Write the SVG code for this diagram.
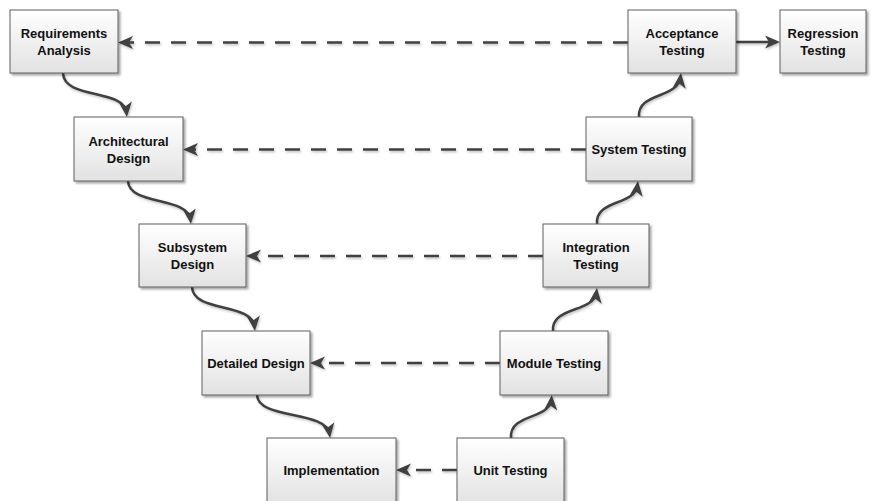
<svg xmlns="http://www.w3.org/2000/svg" width="875" height="501" viewBox="0 0 875 501">
  <defs>
    <linearGradient id="boxFill" x1="0" y1="0" x2="0" y2="1">
      <stop offset="0" stop-color="#ffffff"/>
      <stop offset="1" stop-color="#e2e2e2"/>
    </linearGradient>
    <filter id="boxShadow" x="-10%" y="-10%" width="125%" height="130%">
      <feDropShadow dx="2" dy="2" stdDeviation="1" flood-color="#000" flood-opacity="0.35"/>
    </filter>
    <filter id="lineShadow" x="-5%" y="-50%" width="110%" height="200%">
      <feDropShadow dx="1" dy="1.5" stdDeviation="0.8" flood-color="#000" flood-opacity="0.25"/>
    </filter>
    <marker id="arrow" markerUnits="userSpaceOnUse" markerWidth="16" markerHeight="14" refX="11" refY="7" orient="auto">
      <path d="M0,0.5 L15,7 L0,13.5 L4,7 z" fill="#404040"/>
    </marker>
  </defs>
  <style>
    .box rect { fill: url(#boxFill); stroke: #5e5e5e; stroke-width: 1; filter: url(#boxShadow); }
    .box text { font-family: "Liberation Sans", Arial, sans-serif; font-weight: bold; font-size: 13px; fill: #111; text-anchor: middle; }
    .link { fill: none; stroke: #404040; stroke-width: 2.5; marker-end: url(#arrow); }
    .trace { stroke-dasharray: 15 11; }
    #connectors { filter: url(#lineShadow); }
  </style>

  <rect width="875" height="501" fill="#ffffff"/>

  <g id="connectors">
    <!-- descending design flow -->
    <path class="link" d="M63,73 C64,100 124,88 126.5,113"/>
    <path class="link" d="M128,181 C129,206 188,196 190.5,220"/>
    <path class="link" d="M192,287 C193,313 252,302 254.5,327"/>
    <path class="link" d="M257,395 C258,420 326,410 329.5,434"/>
    <!-- ascending test flow -->
    <path class="link" d="M511,438 C509,413 550,420 551.5,399"/>
    <path class="link" d="M553,331 C551,306 594,313 596.5,292"/>
    <path class="link" d="M597,224 C595,199 635,206 637.5,185"/>
    <path class="link" d="M639,117 C637,92 678,99 680.5,77"/>
    <!-- verification traces -->
    <path class="link trace" d="M628,42.5 L122,42.5"/>
    <path class="link trace" d="M586,149.5 L187,149.5"/>
    <path class="link trace" d="M543,256 L250,256"/>
    <path class="link trace" d="M500,363 L314,363"/>
    <path class="link trace" d="M457,470 L400,470"/>
    <!-- acceptance to regression -->
    <path class="link" d="M736,42 L776,42"/>
  </g>

  <g id="requirements-analysis" class="box">
    <rect x="10" y="10" width="108" height="63"/>
    <text x="64" y="38">Requirements</text>
    <text x="64" y="55">Analysis</text>
  </g>
  <g id="architectural-design" class="box">
    <rect x="74" y="117" width="109" height="64"/>
    <text x="128.5" y="145.5">Architectural</text>
    <text x="128.5" y="162.5">Design</text>
  </g>
  <g id="subsystem-design" class="box">
    <rect x="139" y="224" width="107" height="63"/>
    <text x="192.5" y="252">Subsystem</text>
    <text x="192.5" y="269">Design</text>
  </g>
  <g id="detailed-design" class="box">
    <rect x="202" y="331" width="108" height="64"/>
    <text x="256" y="367.5">Detailed Design</text>
  </g>
  <g id="implementation" class="box">
    <rect x="267" y="438" width="129" height="66"/>
    <text x="331.5" y="474.5">Implementation</text>
  </g>
  <g id="unit-testing" class="box">
    <rect x="457" y="438" width="107" height="66"/>
    <text x="510.5" y="474.5">Unit Testing</text>
  </g>
  <g id="module-testing" class="box">
    <rect x="500" y="331" width="108" height="64"/>
    <text x="554" y="367.5">Module Testing</text>
  </g>
  <g id="integration-testing" class="box">
    <rect x="543" y="224" width="106" height="63"/>
    <text x="596" y="252">Integration</text>
    <text x="596" y="269">Testing</text>
  </g>
  <g id="system-testing" class="box">
    <rect x="586" y="117" width="106" height="64"/>
    <text x="639" y="153.5">System Testing</text>
  </g>
  <g id="acceptance-testing" class="box">
    <rect x="628" y="10" width="108" height="63"/>
    <text x="682" y="38">Acceptance</text>
    <text x="682" y="55">Testing</text>
  </g>
  <g id="regression-testing" class="box">
    <rect x="780" y="10" width="86" height="63"/>
    <text x="823" y="38">Regression</text>
    <text x="823" y="55">Testing</text>
  </g>
</svg>
